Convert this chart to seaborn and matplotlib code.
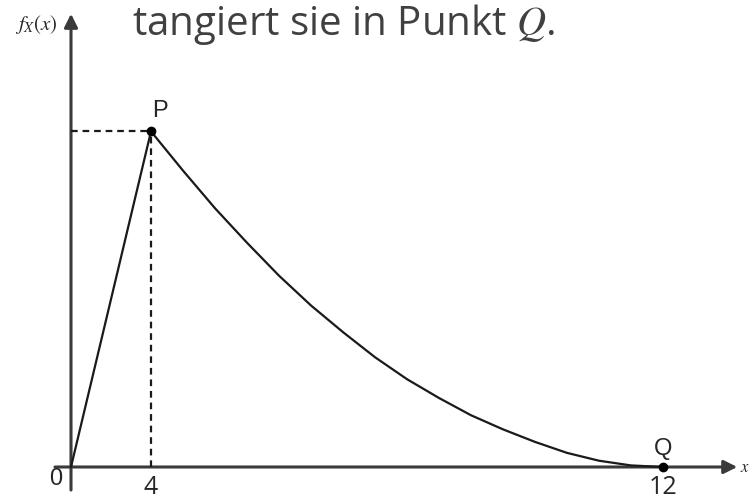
import numpy as np
import matplotlib
matplotlib.use("Agg")
import matplotlib.pyplot as plt
import seaborn as sns

# Density f_X: linear rise on [0, 4], then a decay touching the x-axis at 12
rise_x = [0.0, 4.0]
rise_f = [0.0, 0.214]
decay_x = [4.0, 4.5, 5.0, 5.5, 6.0, 6.5, 7.0, 7.5, 8.0, 8.5, 9.0, 9.5, 10.0, 10.5, 11.0, 11.5, 12.0]
decay_f = [0.214, 0.189, 0.165, 0.143, 0.122, 0.103, 0.086, 0.070, 0.056, 0.044, 0.033, 0.024, 0.016, 0.009, 0.004, 0.001, 0.0]

peak_x, peak_f = 4.0, 0.214   # point P
end_x, end_f = 12.0, 0.0      # point Q
tick_labels = {0.0: "0", 4.0: "4", 12.0: "12"}
title_text = "tangiert sie in Punkt $Q$."

sns.set_style("white")
plt.rcParams["font.family"] = ["DejaVu Sans"]
plt.rcParams["mathtext.fontset"] = "stix"

fig = plt.figure(figsize=(7.51, 5.0), dpi=100)
ax = fig.add_axes([0, 0, 1, 1])
ax.set_axis_off()

ink = "#1a1a1a"
axis_ink = "#3a3a3a"

sns.lineplot(x=rise_x, y=rise_f, ax=ax, color=ink, lw=1.6, sort=False, estimator=None)
sns.lineplot(x=decay_x, y=decay_f, ax=ax, color=ink, lw=1.6, sort=False, estimator=None)

# schematic (non-uniform) horizontal scale: [0,4] is compressed relative to [4,12]
def fwd(x):
    x = np.asarray(x, dtype=float)
    return np.where(x <= 4, 20.0 * x, 80.0 + 64.0 * (x - 4))

def inv(u):
    u = np.asarray(u, dtype=float)
    return np.where(u <= 80, u / 20.0, 4 + (u - 80.0) / 64.0)

ax.set_xscale("function", functions=(fwd, inv))
ax.set_xlim(-3.55, 13.375)
ax.set_ylim(-0.02105, 0.2978)

# coordinate axes with arrowheads
ax.annotate("", xy=(13.16, 0), xytext=(-0.8, 0),
            arrowprops=dict(arrowstyle="-|>", lw=2.2, color=axis_ink,
                            mutation_scale=20, shrinkA=0, shrinkB=0), zorder=1)
ax.annotate("", xy=(0, 0.289), xytext=(0, -0.0147),
            arrowprops=dict(arrowstyle="-|>", lw=2.2, color=axis_ink,
                            mutation_scale=20, shrinkA=0, shrinkB=0), zorder=1)

# dashed guides to P
ax.plot([0, peak_x], [peak_f, peak_f], ls=(0, (3, 2.2)), color=ink, lw=1.6)
ax.plot([peak_x, peak_x], [0, peak_f], ls=(0, (3, 2.2)), color=ink, lw=1.6)

# P and Q
ax.plot([peak_x, end_x], [peak_f, end_f], "o", color="black", ms=6, zorder=5)
ax.annotate("P", (peak_x, peak_f), xytext=(6.3, 14.5), textcoords="offset points",
            ha="center", va="center", fontsize=17, family="Liberation Sans")
ax.annotate("Q", (end_x, end_f), xytext=(0, 13), textcoords="offset points",
            ha="center", va="center", fontsize=17, family="Liberation Sans")

# tick labels on the x-axis
ax.annotate(tick_labels[0.0], (0.0, 0.0), xytext=(-10.8, -8.6), textcoords="offset points",
            ha="center", va="center", fontsize=17, family="Liberation Sans")
for xv in (4.0, 12.0):
    ax.annotate(tick_labels[xv], (xv, 0.0), xytext=(0, -15), textcoords="offset points",
                ha="center", va="center", fontsize=18, family="Open Sans")

# axis names
ax.text(36 / 751, 1 - 24 / 500, "$f_X(x)$", transform=ax.transAxes,
        ha="center", va="center", fontsize=15)
ax.text(740 / 751, 1 - 467 / 500, "$x$", transform=ax.transAxes,
        ha="left", va="center", fontsize=12)

# heading
ax.text(132 / 751, 1 - 35 / 500, title_text, transform=ax.transAxes,
        ha="left", va="baseline", fontsize=29, family="Open Sans", color="#404040")

fig.savefig("out.png", dpi=100)
